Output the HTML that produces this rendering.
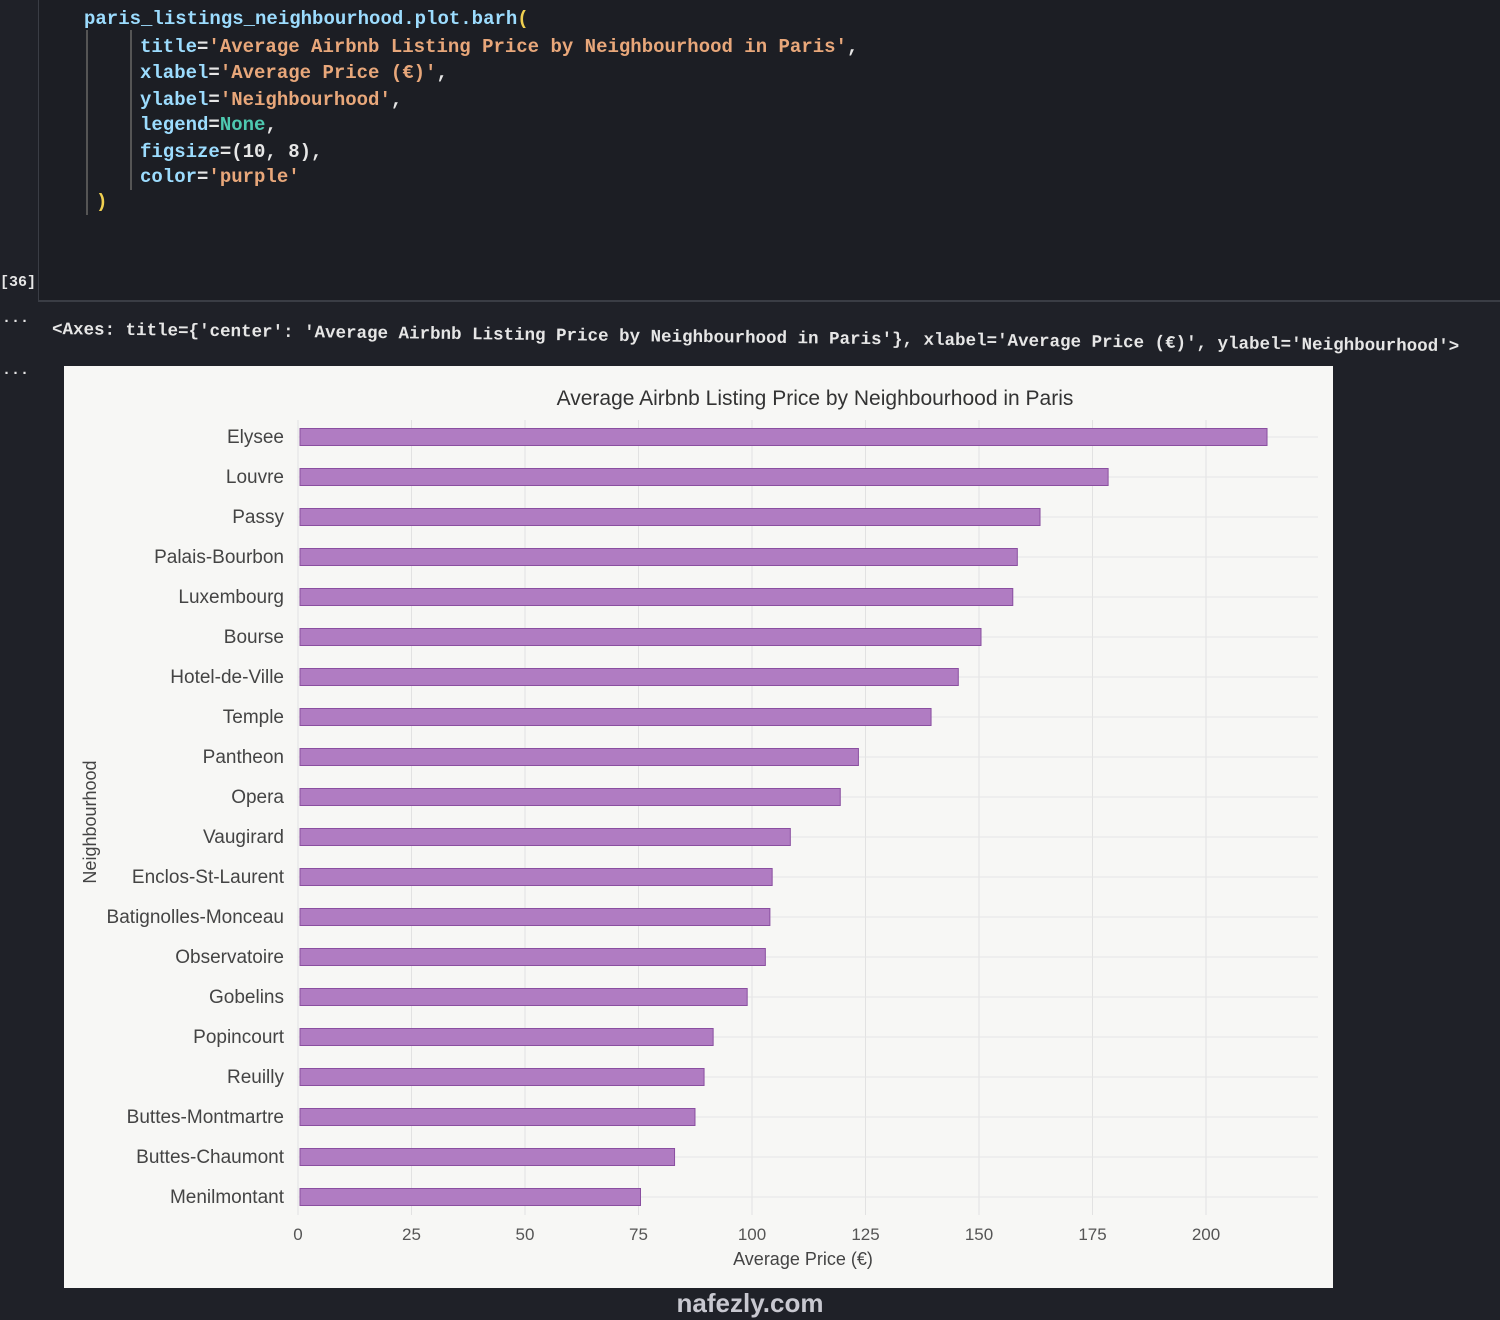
<!DOCTYPE html>
<html><head><meta charset="utf-8"><style>
body{margin:0;width:1500px;height:1320px;background:#1f2128;overflow:hidden;position:relative;font-family:"Liberation Mono",monospace}
.code{position:absolute;font-weight:bold;font-size:19px;white-space:pre;color:#e6e6e6}
.k{color:#9cdcfe}.s{color:#e8a77a}.n{color:#4ec9b0}.y{color:#f0d050}
</style></head><body>
<div style="position:absolute;left:38px;top:0;width:1470px;height:300px;background:#1c1e24;border-left:1px solid #3a3d45;border-bottom:2px solid #3a3d45"></div>
<div style="position:absolute;left:86px;top:30px;width:2px;height:185px;background:#555"></div>
<div style="position:absolute;left:130px;top:30px;width:2px;height:160px;background:#555"></div>
<div class="code" style="left:84px;top:8px"><span class="k">paris_listings_neighbourhood.plot.barh</span><span class="y">(</span></div>
<div class="code" style="left:140px;top:36px"><span class="k">title</span>=<span class="s">'Average Airbnb Listing Price by Neighbourhood in Paris'</span>,</div>
<div class="code" style="left:140px;top:62px"><span class="k">xlabel</span>=<span class="s">'Average Price (€)'</span>,</div>
<div class="code" style="left:140px;top:89px"><span class="k">ylabel</span>=<span class="s">'Neighbourhood'</span>,</div>
<div class="code" style="left:140px;top:114px"><span class="k">legend</span>=<span class="n">None</span>,</div>
<div class="code" style="left:140px;top:141px"><span class="k">figsize</span>=(10, 8),</div>
<div class="code" style="left:140px;top:166px"><span class="k">color</span>=<span class="s">'purple'</span></div>
<div class="code" style="left:96px;top:191px"><span class="y">)</span></div>
<div class="code" style="left:0;top:274px;font-size:15px">[36]</div>
<div class="code" style="left:2px;top:310px;font-size:15px">...</div>
<div class="code" style="left:2px;top:362px;font-size:15px">...</div>
<div class="code" style="left:52px;top:320px;font-size:17.5px;transform:rotate(0.7deg);transform-origin:left">&lt;Axes: title={'center': 'Average Airbnb Listing Price by Neighbourhood in Paris'}, xlabel='Average Price (€)', ylabel='Neighbourhood'&gt;</div>

<svg id="chart" style="position:absolute;left:0;top:0" width="1500" height="1320" font-family="Liberation Sans, sans-serif">
<rect x="64" y="366" width="1269" height="922" fill="#f7f7f5"/>
<g id="grid"></g><g id="bars"></g><g id="labels"></g>
<text x="815" y="405" font-size="21" fill="#333" text-anchor="middle">Average Airbnb Listing Price by Neighbourhood in Paris</text>
<text x="803" y="1265" font-size="18" fill="#444" text-anchor="middle">Average Price (€)</text>
<text x="96" y="822" font-size="18" fill="#444" text-anchor="middle" transform="rotate(-90 96 822)">Neighbourhood</text>
<text x="750" y="1312" font-size="26" font-weight="bold" fill="#c8c8d0" text-anchor="middle">nafezly.com</text>
</svg>
<script>
const categories=["Elysee","Louvre","Passy","Palais-Bourbon","Luxembourg","Bourse","Hotel-de-Ville","Temple","Pantheon","Opera","Vaugirard","Enclos-St-Laurent","Batignolles-Monceau","Observatoire","Gobelins","Popincourt","Reuilly","Buttes-Montmartre","Buttes-Chaumont","Menilmontant"];
const values=[213,178,163,158,157,150,145,139,123,119,108,104,103.5,102.5,98.5,91,89,87,82.5,75];
const ticks=[0,25,50,75,100,125,150,175,200];
const ns="http://www.w3.org/2000/svg";
const x0=298,xScale=4.54,top0=415,step=40,barH=17;
function xs(v){return x0+v*xScale;}
function yc(i){return top0+step*(i+0.55);}
const grid=document.getElementById('grid'),bars=document.getElementById('bars'),labels=document.getElementById('labels');
function mk(t,a){const e=document.createElementNS(ns,t);for(const k in a)e.setAttribute(k,a[k]);return e;}
ticks.forEach(t=>{
  const l=mk('line',{x1:xs(t),x2:xs(t),y1:420,y2:1215,stroke:'#e2e2e2','stroke-width':1});
  
  
  grid.appendChild(l);
  const tx=mk('text',{x:xs(t),y:1240,'font-size':17,fill:'#555','text-anchor':'middle'});
  tx.textContent=t;
  
  
  labels.appendChild(tx);
});
categories.forEach((c,i)=>{
  const g=mk('line',{x1:x0,x2:1318,y1:yc(i),y2:yc(i),stroke:'#e6e6e6'});
  
  
  grid.appendChild(g);
  const r=mk('rect',{x:x0+2,y:yc(i)-barH/2,width:xs(values[i])-x0,height:barH,fill:'#b07cc2',stroke:'#8a4fa0','stroke-width':1});
  
  
  bars.appendChild(r);
  const t=mk('text',{x:284,y:yc(i)+6,'font-size':19,fill:'#444','text-anchor':'end'});
  t.textContent=c;
  
  
  labels.appendChild(t);
});
</script>
</body></html>
